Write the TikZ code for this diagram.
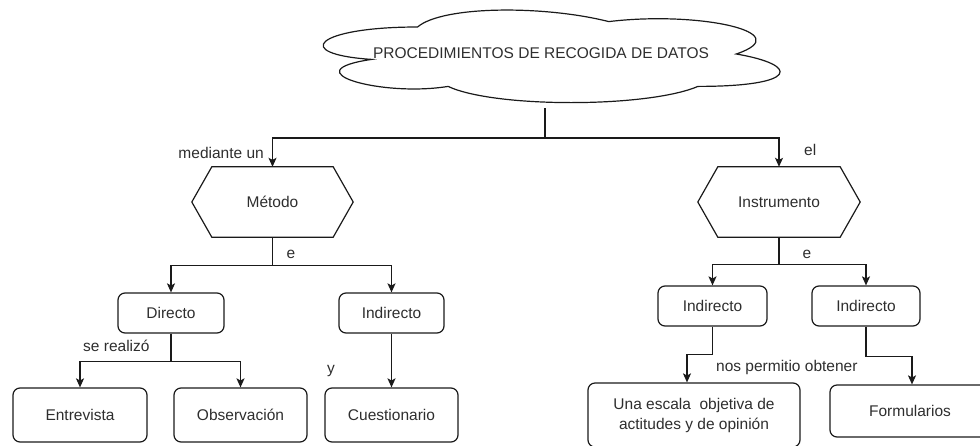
\documentclass[tikz,border=0pt]{standalone}
\usepackage{fontspec}
\setmainfont{Liberation Sans}
\usepackage{xcolor}
\usetikzlibrary{arrows.meta}
\definecolor{linegray}{HTML}{1A1A1A}
\definecolor{textgray}{HTML}{2E2E2E}

\tikzset{
  txt/.style={text=textgray,font=\fontsize{15.5}{20}\selectfont,inner sep=0pt},
  box/.style={txt,draw=linegray,line width=1.2pt,rounded corners=7pt,align=center},
  hexa/.style={txt,minimum width=161pt,minimum height=70pt},
  link/.style={linegray,line width=1.2pt}
}

\begin{document}
\begin{tikzpicture}[x=1pt,y=-1pt,>={Stealth[length=9pt,width=8pt,inset=2pt]}]
  \useasboundingbox (0,0) rectangle (980,445);
  \clip (0,0) rectangle (980,445);
  % cloud
  \begin{scope}[shift={(290,0)},x=510pt,y=-108pt]
    \draw[link] (.25,.25) .. controls (.05,.25) and (0,.5) .. (.16,.55)
      .. controls (0,.66) and (.18,.9) .. (.31,.8)
      .. controls (.4,1) and (.7,1) .. (.8,.8)
      .. controls (1,.8) and (1,.6) .. (.875,.5)
      .. controls (1,.3) and (.8,.1) .. (.625,.2)
      .. controls (.5,.05) and (.3,.05) .. (.25,.25) -- cycle;
  \end{scope}
  \node[txt] (datos) at (541,53) {PROCEDIMIENTOS DE RECOGIDA DE DATOS};
  \coordinate (cloudbot) at (545,108);
  \coordinate (split) at (545,138);
  % hexagons
  \node[hexa] (metodo) at (272.5,202) {Método};
  \node[hexa,minimum width=162pt] (instr) at (779,202) {Instrumento};
  \foreach \h in {metodo,instr}
    \draw[link] (\h.west) -- ([xshift=20pt]\h.north west) -- ([xshift=-20pt]\h.north east)
      -- (\h.east) -- ([xshift=-20pt]\h.south east) -- ([xshift=20pt]\h.south west) -- cycle;
  % boxes
  \node[box,minimum width=106pt,minimum height=40pt] (directo) at (171,313) {Directo};
  \node[box,minimum width=105pt,minimum height=40pt] (indL) at (391.5,313) {Indirecto};
  \node[box,minimum width=134pt,minimum height=54pt] (entrevista) at (80,415) {Entrevista};
  \node[box,minimum width=133pt,minimum height=54pt] (observ) at (240.5,415) {Observación};
  \node[box,minimum width=133pt,minimum height=54pt] (cuest) at (391.5,415) {Cuestionario};
  \node[box,minimum width=109pt,minimum height=40pt] (indA) at (712.5,306) {Indirecto};
  \node[box,minimum width=108pt,minimum height=40pt] (indB) at (866,306) {Indirecto};
  \node[box,minimum width=212pt,minimum height=64pt] (escala) at (694,415)
    {Una escala\ \ objetiva de\\actitudes y de opinión};
  \node[box,minimum width=160pt,minimum height=52pt] (form) at (910,411) {Formularios};
  % connectors
  \draw[link] (cloudbot) -- (split);
  \draw[link,->] (split) -| (metodo.north);
  \draw[link,->] (split) -| (instr.north);
  \draw[link,->] (metodo.south) -- ++(0,28) -| (directo.north);
  \draw[link,->] (metodo.south) -- ++(0,28) -| (indL.north);
  \draw[link,->] (instr.south) -- ++(0,27) -| (indA.north);
  \draw[link,->] (instr.south) -- ++(0,27) -| (indB.north);
  \draw[link,->] (directo.south) -- ++(0,28) -| (entrevista.north);
  \draw[link,->] (directo.south) -- ++(0,28) -| (observ.north);
  \draw[link,->] (indL.south) -- (cuest.north);
  \draw[link,->] (indA.south) -- ++(0,28) -| ([xshift=-7pt]escala.north);
  \draw[link,->] (indB.south) -- ++(0,30) -| ([xshift=2pt]form.north);
  % labels
  \node[txt,anchor=east] (lblun) at (264,153) {mediante un};
  \node[txt,anchor=west] (lblel) at (804,150) {el};
  \node[txt] (lbleA) at (291,254) {e};
  \node[txt] (lbleB) at (807,254) {e};
  \node[txt,anchor=west] (lblse) at (83,346) {se realizó};
  \node[txt] (lbly) at (331,371) {y};
  \node[txt,anchor=west] (lblnos) at (716,367) {nos permitio obtener};
\end{tikzpicture}
\end{document}
